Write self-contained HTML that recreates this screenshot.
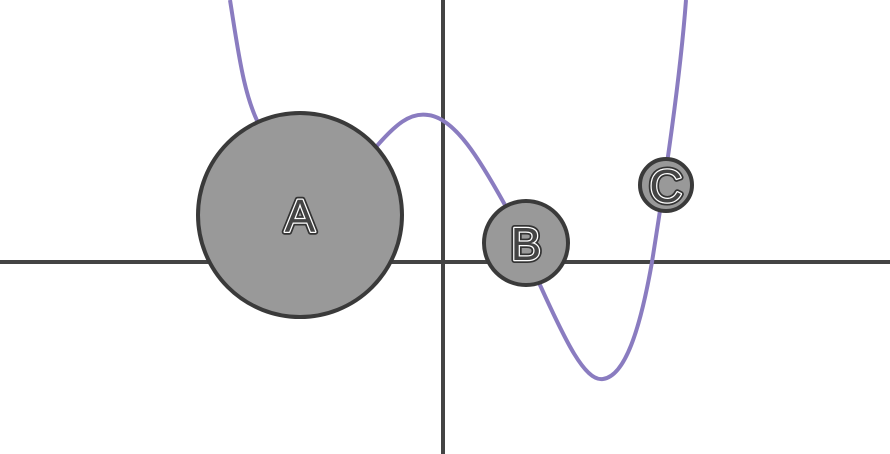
<!DOCTYPE html>
<html><head><style>html,body{margin:0;padding:0;background:#fff}svg{display:block}</style></head>
<body>
<svg width="890" height="454" viewBox="0 0 890 454" xmlns="http://www.w3.org/2000/svg">
<line x1="0" y1="262" x2="890" y2="262" stroke="#444" stroke-width="4"/>
<line x1="443" y1="0" x2="443" y2="454" stroke="#444" stroke-width="4"/>
<path d="M230,0 C238,50 244,100 262,130 L330,170 L376,147 C395,125 410,112 428,115 C455,118 480,160 505,205 C518,232 530,258 540,285 C565,340 585,382 603,379 C625,376 640,330 652,262 C665,180 680,80 686,0" fill="none" stroke="#8a7cc0" stroke-width="4"/>
<g stroke="#3a3a3a" stroke-width="4" fill="#999">
<circle cx="300" cy="215" r="102"/>
<circle cx="526" cy="243" r="42"/>
<circle cx="666" cy="185" r="26"/>
</g>
<g font-family="Liberation Sans, sans-serif" font-size="46" text-anchor="middle">
<g stroke="#333" stroke-width="6" fill="#333" stroke-linejoin="round">
<text x="300" y="232">A</text><text x="526" y="260">B</text><text x="666" y="202">C</text>
</g>
<g stroke="#fff" stroke-width="2.5" fill="#444" stroke-linejoin="round" paint-order="stroke">
<text x="300" y="232">A</text><text x="526" y="260">B</text><text x="666" y="202">C</text>
</g>
</g>
</svg>
</body></html>
